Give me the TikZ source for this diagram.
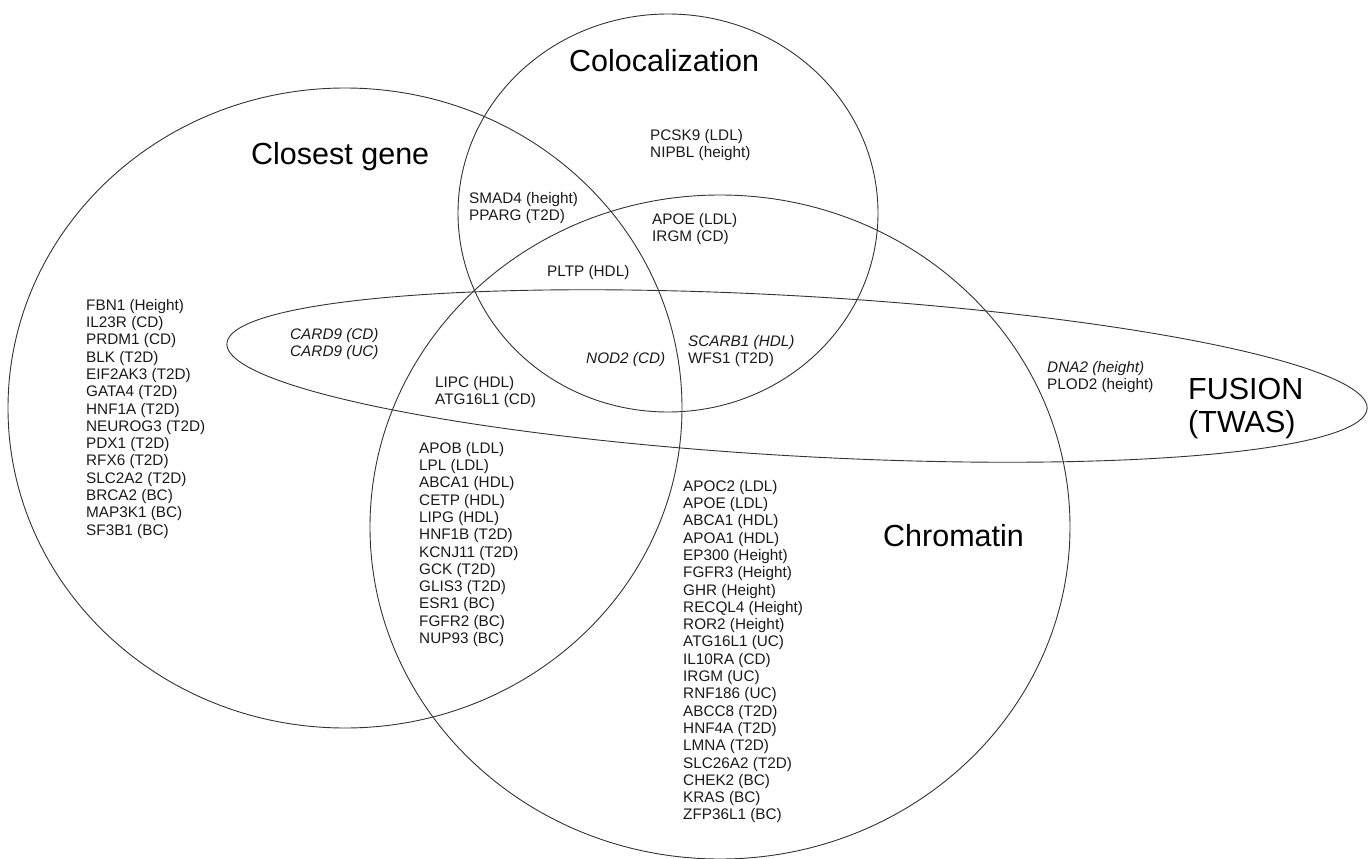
\documentclass[tikz,border=0pt]{standalone}
\usepackage{fontspec}
\setmainfont{Liberation Sans}
\usepackage{tikz}
\definecolor{vennline}{HTML}{333333}
\definecolor{genetext}{HTML}{1A1A1A}

\begin{document}
\begin{tikzpicture}[x=1pt, y=-1pt,
    setline/.style={draw=vennline, line width=0.9pt},
    genes/.style={anchor=north west, inner sep=0pt, align=left, text=genetext,
                  font=\fontsize{15.3}{17.3}\selectfont},
    gene/.style={anchor=base west, inner sep=0pt, text=genetext,
                 font=\fontsize{15.3}{17.3}\selectfont},
    setname/.style={anchor=base west, inner sep=0pt, font=\fontsize{30.5}{33}\selectfont}]
    \useasboundingbox (0,0) rectangle (1369,859);

    \draw[setline] (345,408) ellipse [x radius=337pt, y radius=320pt];
    \draw[setline] (668,213) ellipse [x radius=210pt, y radius=199pt];
    \draw[setline] (720,527) ellipse [x radius=350pt, y radius=332pt];
    \draw[setline] plot[domain=0:360, samples=240, smooth cycle]
        ({797+570.1*cos(\x)-4.55*sin(\x)}, {376+32.5*cos(\x)+79.9*sin(\x)});

    \node[setname] (closest) at (251,164) {Closest gene};
    \node[setname] (coloc) at (569,72) {Colocalization};
    \node[setname] (chromatin) at (883,546) {Chromatin};
    \node[setname, anchor=north west, align=left] (fusion) at (1188,378) {FUSION\\(TWAS)};

    \node[genes] (cgonly) at (86,299) {FBN1 (Height)\\IL23R (CD)\\PRDM1 (CD)\\BLK (T2D)\\EIF2AK3 (T2D)\\GATA4 (T2D)\\HNF1A (T2D)\\NEUROG3 (T2D)\\PDX1 (T2D)\\RFX6 (T2D)\\SLC2A2 (T2D)\\BRCA2 (BC)\\MAP3K1 (BC)\\SF3B1 (BC)};
    \node[genes, font=\fontsize{15.3}{17.3}\selectfont\itshape] (card) at (290,328) {CARD9 (CD)\\CARD9 (UC)};
    \node[genes] (smad) at (469,192) {SMAD4 (height)\\PPARG (T2D)};
    \node[genes] (pcsk) at (650,129) {PCSK9 (LDL)\\NIPBL (height)};
    \node[genes] (apoe) at (652,213) {APOE (LDL)\\IRGM (CD)};
    \node[gene] (pltp) at (547,276) {PLTP (HDL)};
    \node[gene, font=\fontsize{15.3}{17.3}\selectfont\itshape] (nod) at (586,363) {NOD2 (CD)};
    \node[genes] (scarb) at (688,335) {\textit{SCARB1 (HDL)}\\WFS1 (T2D)};
    \node[genes] (lipc) at (435,376) {LIPC (HDL)\\ATG16L1 (CD)};
    \node[genes] (apob) at (419,442) {APOB (LDL)\\LPL (LDL)\\ABCA1 (HDL)\\CETP (HDL)\\LIPG (HDL)\\HNF1B (T2D)\\KCNJ11 (T2D)\\GCK (T2D)\\GLIS3 (T2D)\\ESR1 (BC)\\FGFR2 (BC)\\NUP93 (BC)};
    \node[genes] (apoc) at (683,480) {APOC2 (LDL)\\APOE (LDL)\\ABCA1 (HDL)\\APOA1 (HDL)\\EP300 (Height)\\FGFR3 (Height)\\GHR (Height)\\RECQL4 (Height)\\ROR2 (Height)\\ATG16L1 (UC)\\IL10RA (CD)\\IRGM (UC)\\RNF186 (UC)\\ABCC8 (T2D)\\HNF4A (T2D)\\LMNA (T2D)\\SLC26A2 (T2D)\\CHEK2 (BC)\\KRAS (BC)\\ZFP36L1 (BC)};
    \node[genes] (dna) at (1047,361) {\textit{DNA2 (height)}\\PLOD2 (height)};
\end{tikzpicture}
\end{document}
